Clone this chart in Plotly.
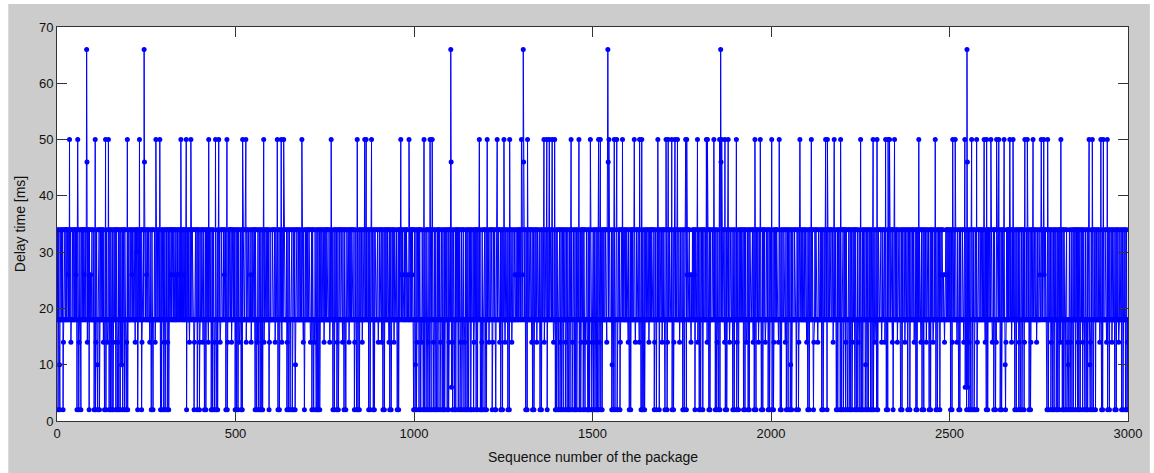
import plotly.graph_objects as go

# Delay level codes used in the trace rows below (code -> delay in ms)
level_of_code = {"0": 2, "1": 6, "2": 10, "3": 14, "4": 18, "5": 26, "6": 30, "7": 34}

# One row per 100 packages, groups of 10 for readability
delay_rows = [
    "4704742074 4474470347 4744774474 5474047734 4474474447 4754707447 0347440774 4744757474 4740374470 7445447744",
    "4470447034 7420474704 4744744743 7404470474 3447704740 7440470347 4474074703 4704470474 2470474407 4740347044",
    "7444744745 4744474437 4476704474 0474470347 4744474474 5474474443 7440474704 4474347444 7447444740 4704744703",
    "4704474703 4704474757 4474547474 7445474754 4745744547 4474574474 7404474474 3474447474 7440347744 4704744703",
    "4474474734 7404470474 4743447444 7044704744 0347404470 4474743447 4744474754 4704470347 4474447734 7444744704",
    "4704470474 3447404704 7444474743 4744474444 7453474474 4474074704 3470447404 7044704743 4744474474 4740347444",
    "4474744474 3474444704 4704474743 7444474744 4470347044 7404474704 0474470247 4744474474 4474474443 7404474474",
    "4744474743 4470474704 3474404704 7044704474 4744474347 4474474744 4743474444 7404470474 4470347047 4744474743",
    "7440474704 4744474347 4474474744 4703447404 7404470474 4474347444 7444744744 4704470474 3447404704 7444474743",
    "4474474734 7404470474 4744474743 7044704474 4743474444 7404470474 4745474754 4474574474 7454434547 4474574704",
    "4702470347 4470474704 3474404704 7440474703 4704474074 4470347404 7404470474 4703447404 7044704474 4704470347",
    "7410447034 7404470474 4740744703 4470474740 3447044704 7404744704 0744470347 4470474074 4744704403 7404474704",
    "4704744743 4474474704 3474470404 7444474743 4704474074 4474347444 7404470474 4743447444 7454474547 4474574474",
    "4745474474 7404470474 4744474743 7044704474 4743474444 7404470474 4474347444 7404744704 4744474474 3447404704",
    "7440474703 4704474074 4470347404 7404470474 4703447404 7044704474 4704470347 4470474704 3474040704 7040474030",
    "4704740347 4070474034 7404470474 4744474743 7444474744 4470247044 7404474704 0474470347 4744474474 4474474443",
    "7404470474 4744474743 4474474744 3474404704 7044704474 4744474347 4474474744 4703474404 7404470474 4474347447",
    "4704474703 7444474744 4704470347 4474474744 4743447444 7404470474 4704574474 7454434547 4474570474 4470347404",
    "7404744704 4744474474 3447404704 7444474743 4470474034 7404470474 4744474743 7044704474 4743474444 7404470474",
    "4470347404 7444744744 4704470474 3447404704 7444474743 4704474074 4474347444 7404470474 4743447444 7044704474",
    "4704470347 4474474744 3474404704 7444474743 4704474074 4470247044 7444474744 0474470347 4744474474 4474474443",
    "7404470474 4704474703 4474474744 3474444744 7044704474 4704470347 4474474744 4743474444 7404470474 4470347047",
    "4704474703 7440474704 4704470347 4474074704 4703447404 7404470474 4470247404 7404744704 4704470474 3447404704",
    "7444474743 4474474734 7404470474 4744474743 7044704474 4743474444 7404470474 4474347444 7404744704 4744474474",
    "3447404704 7444474743 4704474074 4474347444 7404470474 4743447444 7044704474 4704574474 7454434547 4474574474",
    "4704470347 4474474744 3474404704 7444474743 4701474074 4470347044 7404474704 0474470347 4744474474 4474474443",
    "7404470474 4744474743 4470474704 3474444744 7044704474 4704420347 4474474744 4743474444 7404470474 4470347047",
    "4704474703 7444474744 4704470347 4474474744 4743447444 7454474747 4474574474 7404470474 4470347404 7404744704",
    "4704470474 3447404704 7440474703 4420474034 7404470474 4704474703 7044704474 4703474404 7404470474 4420347404",
    "7404744704 4744474474 3447404704 7444474743 4704474074 4474347444 7404470474 4743447444 7044704474 4704470340",
]

# Packages whose delay reached 50 ms
peak50_seq = [
    35, 58, 107, 136, 144, 197, 231, 277, 288, 347, 362, 375, 425, 444, 453, 476,
    520, 529, 579, 617, 628, 635, 686, 768, 841, 862, 866, 881, 963, 986, 1028,
    1045, 1051, 1183, 1205, 1233, 1252, 1268, 1301, 1318, 1364, 1372, 1379, 1387,
    1394, 1440, 1462, 1494, 1517, 1522, 1546, 1561, 1568, 1584, 1617, 1632, 1638,
    1683, 1706, 1712, 1722, 1731, 1738, 1761, 1764, 1794, 1819, 1822, 1840, 1856,
    1862, 1871, 1880, 1903, 1955, 1970, 2002, 2023, 2081, 2113, 2153, 2158, 2177,
    2195, 2251, 2286, 2297, 2321, 2328, 2332, 2346, 2414, 2460, 2509, 2516, 2543,
    2562, 2576, 2597, 2604, 2616, 2632, 2638, 2653, 2669, 2678, 2711, 2718, 2734,
    2757, 2764, 2775, 2812, 2891, 2900, 2924, 2931, 2942,
]

# Largest delays (sequence number -> delay in ms)
peak_seq_delay = {
    83: 66, 84: 46,
    244: 66, 245: 46,
    1103: 66, 1104: 46, 1105: 6,
    1306: 66, 1307: 46,
    1543: 66, 1544: 46,
    1859: 66, 1860: 46,
    2549: 66, 2550: 46, 2551: 6,
}

for i, r in enumerate(delay_rows):
    if len(r.replace(" ", "")) != 100:
        raise ValueError(f"row {i} has {len(r.replace(' ', ''))} packages")
codes = "".join(r.replace(" ", "") for r in delay_rows)

seq = list(range(1, len(codes) + 1))
delay = [level_of_code[c] for c in codes]
for s in peak50_seq:
    delay[s - 1] = 50
for s, d in peak_seq_delay.items():
    delay[s - 1] = d

fig = go.Figure()
fig.add_trace(go.Scatter(
    x=seq, y=delay, mode="lines+markers",
    line=dict(color="#0000ff", width=1),
    marker=dict(color="#0000ff", size=5, symbol="circle", line=dict(width=0)),
    showlegend=False, hoverinfo="skip",
))

axis_font = dict(family="Liberation Sans, Arial, sans-serif", size=13, color="#111111")
common_axis = dict(
    showline=True, linecolor="#333333", linewidth=1, mirror="ticks",
    ticks="inside", ticklen=10, tickwidth=1, tickcolor="#333333",
    showgrid=False, zeroline=False, tickfont=axis_font,
)
fig.update_xaxes(range=[0, 3000], tickvals=list(range(0, 3001, 500)), **common_axis)
fig.update_yaxes(range=[0, 70], tickvals=list(range(0, 71, 10)), **common_axis)

W, H = 1154, 473
L, R, T, B = 57, 1134, 27, 421
pw, ph = R - L, B - T


def px_x(p):
    return (p - L) / pw


def px_y(p):
    return (B - p) / ph


fig.update_layout(
    width=W, height=H,
    margin=dict(l=L, r=W - R, t=T, b=H - B, pad=0),
    paper_bgcolor="white", plot_bgcolor="rgba(0,0,0,0)",
    shapes=[
        dict(type="rect", xref="paper", yref="paper", layer="below",
             x0=px_x(8), x1=px_x(W + 2), y0=px_y(H + 2), y1=px_y(4),
             fillcolor="#cccccc", line=dict(width=0)),
        dict(type="rect", xref="paper", yref="paper", layer="below",
             x0=0, x1=1, y0=0, y1=1, fillcolor="white", line=dict(width=0)),
    ],
    annotations=[
        dict(text="Sequence number of the package", xref="paper", yref="paper",
             x=0.5, y=px_y(457), xanchor="center", yanchor="middle",
             showarrow=False, font=dict(family="Liberation Sans, Arial, sans-serif", size=14, color="#111111")),
        dict(text="Delay time [ms]", xref="paper", yref="paper",
             x=px_x(20), y=px_y(224), xanchor="center", yanchor="middle", textangle=-90,
             showarrow=False, font=dict(family="Liberation Sans, Arial, sans-serif", size=14, color="#111111")),
    ],
)

fig.write_html("out.html")
